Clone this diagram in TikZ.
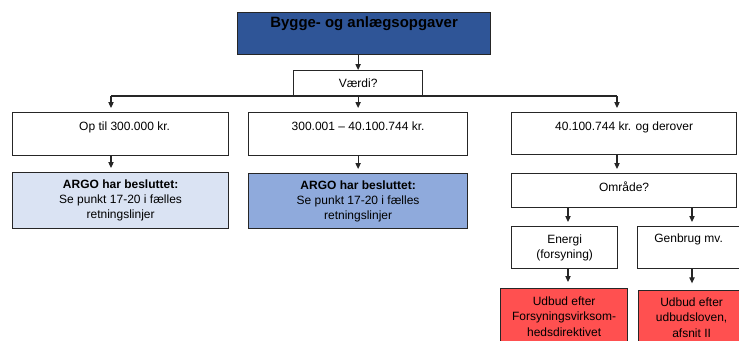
\documentclass[tikz,border=0pt]{standalone}
\usepackage{fontspec}
\setmainfont{Liberation Sans}
\usetikzlibrary{arrows.meta,calc}

\definecolor{titelblaa}{HTML}{2F5597}
\definecolor{lyseblaa}{HTML}{DAE3F3}
\definecolor{mellemblaa}{HTML}{8FAADC}
\definecolor{roed}{HTML}{FF5050}

\tikzset{
  boks/.style={draw=black!85, line width=0.9pt, anchor=north west, align=center, inner sep=1pt,
    font=\fontsize{9}{11.4}\selectfont},
  str/.style 2 args={minimum width=#1*0.75pt, minimum height=#2*0.75pt},
  tekst/.style={anchor=base, inner sep=0pt, font=\fontsize{9}{11.4}\selectfont},
  lin/.style={draw=black!85, line width=0.8pt},
  pil/.style={lin, -{Triangle[length=4.5pt,width=4pt]}},
}

\begin{document}
\begin{tikzpicture}[x=0.75pt,y=0.75pt,yscale=-1,xscale=1]
\clip (0,0) rectangle (739,340);

%Title
\node[boks, fill=titelblaa, str={253}{42}] (titel) at (237,12) {};
\node[tekst, font=\fontsize{11.2}{13}\selectfont\bfseries] (titeltxt) at ($(titel.north)+(0,15)$) {Bygge- og anlægsopgaver};

%Value question
\node[boks, str={129}{25}] (vaerdi) at (293,70) {Værdi?};

%Value ranges
\node[boks, str={216}{43}] (op) at (12,112) {};
\node[tekst] (optxt) at ($(op.north)+(4,18)$) {Op til 300.000 kr.};
\node[boks, str={219}{43}] (mid) at (248,112) {};
\node[tekst] (midtxt) at ($(mid.north)+(0,18)$) {300.001 – 40.100.744 kr.};
\node[boks, str={225}{42}] (over) at (511,112) {};
\node[tekst] (overtxt) at ($(over.north)+(0,18)$) {40.100.744 kr. og derover};

%ARGO boxes
\node[boks, fill=lyseblaa, str={216}{56}] (argo1) at (12,172) {\textbf{ARGO har besluttet:}\\Se punkt 17-20 i fælles\\retningslinjer};
\node[boks, fill=mellemblaa, str={219}{55}] (argo2) at (248,173) {\textbf{ARGO har besluttet:}\\Se punkt 17-20 i fælles\\retningslinjer};

%Area
\node[boks, str={225}{34}] (omraade) at (511,173) {};
\node[tekst] (omraadetxt) at ($(omraade.north)+(0,18)$) {Område?};
\node[boks, str={106}{42}] (energi) at (511,226) {Energi\\(forsyning)};
\node[boks, str={102}{42}] (genbrug) at (637,226) {};
\node[tekst] (genbrugtxt) at ($(genbrug.north)+(0,16)$) {Genbrug mv.};

%Tender rules
\node[boks, fill=roed, str={127}{56}] (udbud1) at (500,288) {Udbud efter\\Forsyningsvirksom-\\hedsdirektivet};
\node[boks, fill=roed, str={106}{54}] (udbud2) at (638,290) {Udbud efter\\udbudsloven,\\afsnit II};

%Connectors
\coordinate (k1) at (111,96);
\coordinate (k3) at (617,96);
\coordinate (xe) at (568,0);
\coordinate (xg) at (692,0);

\draw[pil] (titel.south -| vaerdi.north) -- (vaerdi.north);
\draw[lin] (k1) -- (k3);
\draw[pil, shorten >=3pt] (k1) -- (op.north -| k1);
\draw[pil, shorten >=3pt] (vaerdi.south) -- (mid.north);
\draw[pil, shorten >=3pt] (k3) -- (over.north -| k3);
\draw[pil, shorten >=3pt] (op.south -| k1) -- (argo1.north -| k1);
\draw[pil, shorten >=3pt] (mid.south) -- (argo2.north);
\draw[pil, shorten >=3pt] (over.south -| k3) -- (omraade.north -| k3);
\draw[pil, shorten >=3pt] (omraade.south -| xe) -- (energi.north -| xe);
\draw[pil, shorten >=3pt] (omraade.south -| xg) -- (genbrug.north -| xg);
\draw[pil, shorten >=4.5pt] (energi.south -| xe) -- (udbud1.north -| xe);
\draw[pil, shorten >=5pt] (genbrug.south -| xg) -- (udbud2.north -| xg);

\end{tikzpicture}
\end{document}
